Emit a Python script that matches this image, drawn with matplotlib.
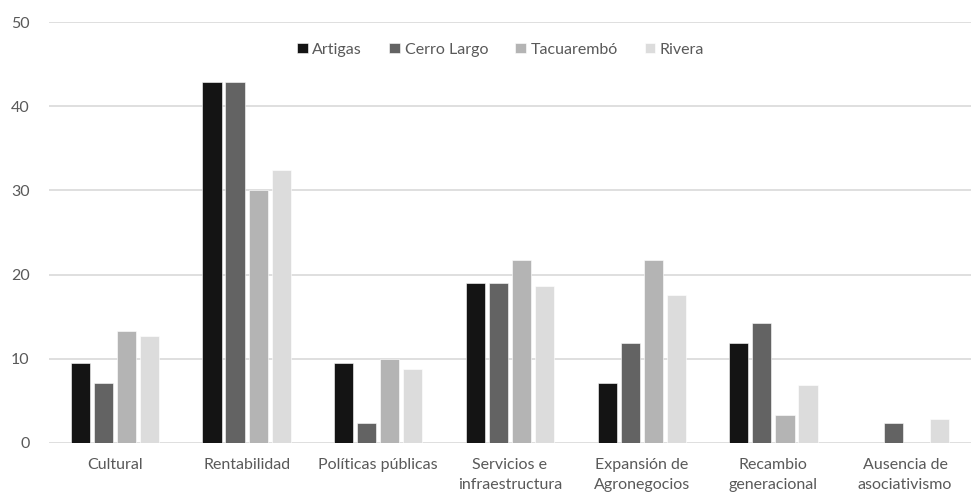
import matplotlib
matplotlib.use("Agg")
import matplotlib.pyplot as plt
import numpy as np

categories = ["Cultural", "Rentabilidad", "Políticas públicas", "Servicios e\ninfraestructura",
              "Expansión de\nAgronegocios", "Recambio\ngeneracional", "Ausencia de\nasociativismo"]
series = ["Artigas", "Cerro Largo", "Tacuarembó", "Rivera"]
artigas = [9.5, 42.9, 9.5, 19.0, 7.1, 11.9, 0]
cerro_largo = [7.1, 42.9, 2.4, 19.0, 11.9, 14.3, 2.4]
tacuarembo = [13.3, 30.0, 10.0, 21.7, 21.7, 3.3, 0]
rivera = [12.7, 32.4, 8.8, 18.6, 17.6, 6.9, 2.9]
values = [artigas, cerro_largo, tacuarembo, rivera]
colors = ["#141414", "#636363", "#b4b4b4", "#dcdcdc"]
yticks = [0, 10, 20, 30, 40, 50]

plt.rcParams['font.family'] = ['Lato', 'DejaVu Sans']
txt = "#595959"

fig = plt.figure(figsize=(9.71, 4.99), dpi=100)
ax = fig.add_axes([49/971, 56/499, 922/971, 421/499])

x = np.arange(len(categories))
slot = 0.175
bw = 0.145
for i, (name, vals, c) in enumerate(zip(series, values, colors)):
    ax.bar(x + (i - 1.5) * slot, vals, width=bw, color=c, label=name,
           edgecolor="white", linewidth=0.4, zorder=3)

ax.set_xlim(-0.5, len(categories) - 0.5)
ax.set_ylim(0, 50)
ax.set_yticks(yticks)
ax.set_xticks(x)
ax.set_xticklabels(categories, linespacing=1.55)
ax.tick_params(axis='both', length=0, labelsize=11.5, colors=txt)
ax.tick_params(axis='x', pad=11)
ax.tick_params(axis='y', pad=14)
ax.yaxis.grid(True, color="#d9d9d9", linewidth=1.2, zorder=0)
for s in ax.spines.values():
    s.set_visible(False)

leg = ax.legend(loc="upper center", bbox_to_anchor=(0.49, 0.985), ncol=4, frameon=False,
                fontsize=11.5, handlelength=0.65, handleheight=0.65, handletextpad=0.3,
                columnspacing=1.7)
for t in leg.get_texts():
    t.set_color(txt)

fig.savefig("out.png", dpi=100)
